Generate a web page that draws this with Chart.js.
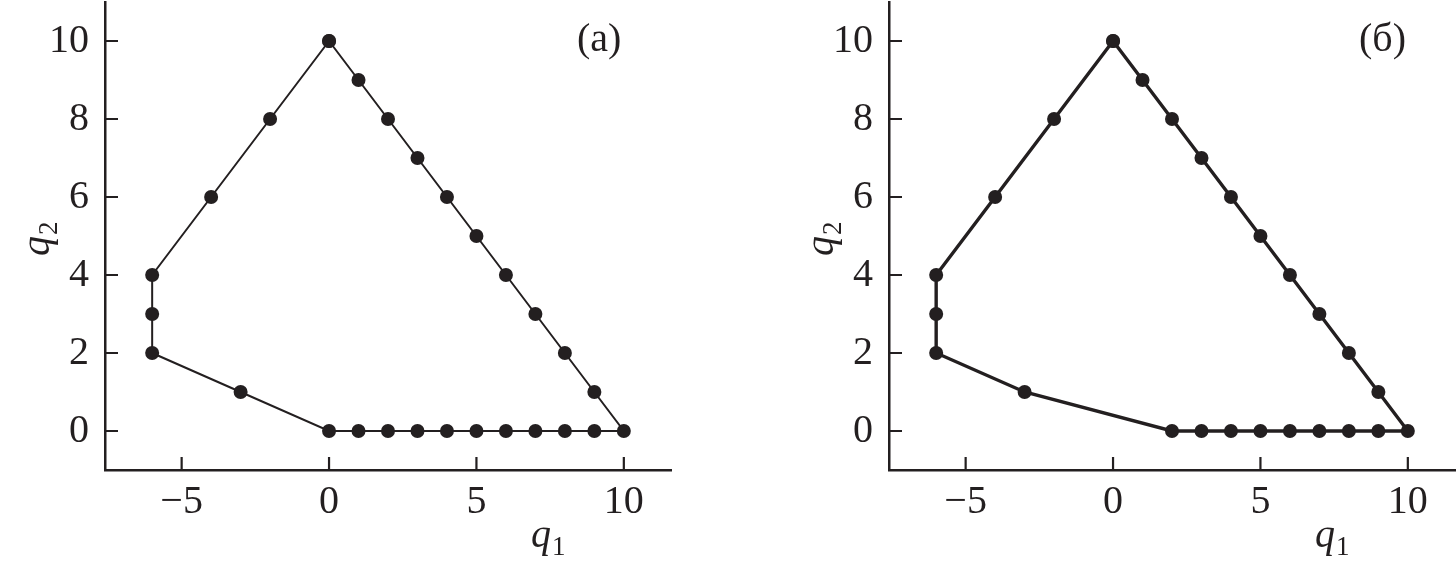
<!DOCTYPE html>
<html><head><meta charset="utf-8">
<script src="https://cdn.jsdelivr.net/npm/chart.js@4.4.1/dist/chart.umd.min.js"></script>
<style>
html,body{margin:0;padding:0;background:#fff;width:1456px;height:571px;overflow:hidden;position:relative;}
canvas{position:absolute;top:-5px;}
.lbl{position:absolute;font-family:"Liberation Serif","Times New Roman",serif;color:#231f20;font-size:40px;line-height:1;white-space:nowrap;}
.lbl i{font-style:italic;}
.lbl sub{font-size:27px;vertical-align:baseline;position:relative;top:8px;margin-left:1px;}
</style></head>
<body>
<canvas id="c1" width="784" height="576" style="left:0px"></canvas>
<canvas id="c2" width="784" height="576" style="left:784px"></canvas>
<div class="lbl" style="left:577px;top:18px;">(а)</div>
<div class="lbl" style="left:1359px;top:18px;">(б)</div>
<div class="lbl" style="left:531px;top:514px;"><i>q</i><sub>1</sub></div>
<div class="lbl" style="left:1315px;top:514px;"><i>q</i><sub>1</sub></div>
<div class="lbl" style="left:16px;top:256px;transform:rotate(-90deg);transform-origin:left top;"><i>q</i><sub>2</sub></div>
<div class="lbl" style="left:800px;top:256px;transform:rotate(-90deg);transform-origin:left top;"><i>q</i><sub>2</sub></div>
<script>
// Data
const leftQ1 = [0,1,2,3,4,5,6,7,8,9,10,9,8,7,6,5,4,3,2,1,0,-3,-6,-6,-6,-4,-2,0];
const leftQ2 = [10,9,8,7,6,5,4,3,2,1,0,0,0,0,0,0,0,0,0,0,0,1,2,3,4,6,8,10];
const rightQ1 = [0,1,2,3,4,5,6,7,8,9,10,9,8,7,6,5,4,3,2,-3,-6,-6,-6,-4,-2,0];
const rightQ2 = [10,9,8,7,6,5,4,3,2,1,0,0,0,0,0,0,0,0,0,1,2,3,4,6,8,10];
const xTickValues = [-5,0,5,10];
const yTickValues = [0,2,4,6,8,10];

const INK = '#231f20';
const FONT = {family: '"Liberation Serif","Times New Roman",serif', size: 40};

const inwardTicks = {
  id: 'inwardTicks',
  afterDatasetsDraw(chart) {
    const ctx = chart.ctx, a = chart.chartArea;
    const xs = chart.scales.x, ys = chart.scales.y;
    ctx.save();
    ctx.strokeStyle = INK; ctx.lineWidth = 2.2;
    ctx.beginPath();
    xTickValues.forEach(v => { const p = xs.getPixelForValue(v); ctx.moveTo(p, a.bottom); ctx.lineTo(p, a.bottom - 13); });
    yTickValues.forEach(v => { const p = ys.getPixelForValue(v); ctx.moveTo(a.left, p); ctx.lineTo(a.left + 13, p); });
    ctx.stroke();
    ctx.restore();
  }
};

function makeChart(id, q1, q2, lw) {
  const pts = q1.map((x, i) => ({x: x, y: q2[i]}));
  return new Chart(document.getElementById(id), {
    type: 'scatter',
    data: {datasets: [{
      data: pts, showLine: true, borderColor: INK, borderWidth: lw,
      pointBackgroundColor: INK, pointBorderColor: INK, pointRadius: 7, pointBorderWidth: 0,
      tension: 0, clip: false
    }]},
    options: {
      responsive: false, animation: false, devicePixelRatio: 1,
      layout: {padding: {top: 0, right: 113, left: 0, bottom: 0}},
      plugins: {legend: {display: false}, tooltip: {enabled: false}},
      scales: {
        x: {
          type: 'linear', min: -7.6, max: 11.6,
          afterBuildTicks: s => { s.ticks = xTickValues.map(v => ({value: v})); },
          afterFit: s => { s.height = 101; s.paddingLeft = 0; s.paddingRight = 0; },
          grid: {display: false, drawTicks: false},
          border: {display: true, color: INK, width: 2.5},
          ticks: {font: FONT, color: INK, padding: 8, maxRotation: 0,
                  callback: v => String(v).replace('-', '\u2212')}
        },
        y: {
          type: 'linear', min: -1, max: 11,
          afterBuildTicks: s => { s.ticks = yTickValues.map(v => ({value: v})); },
          afterFit: s => { s.width = 105; s.paddingTop = 0; s.paddingBottom = 0; },
          grid: {display: false, drawTicks: false},
          border: {display: true, color: INK, width: 2.5},
          ticks: {font: FONT, color: INK, padding: 16}
        }
      }
    },
    plugins: [inwardTicks]
  });
}
makeChart('c1', leftQ1, leftQ2, 2);
makeChart('c2', rightQ1, rightQ2, 3.4);
</script>
</body></html>
